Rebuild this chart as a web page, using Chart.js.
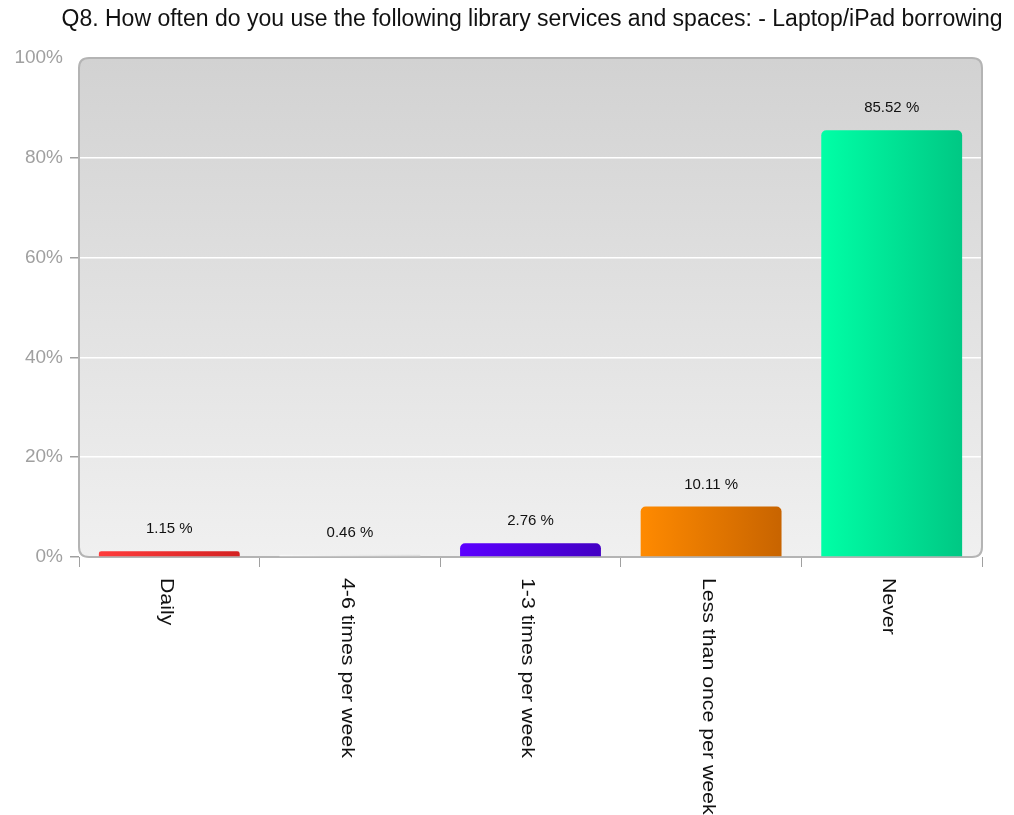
<!DOCTYPE html>
<html>
<head>
<meta charset="utf-8">
<script src="https://cdn.jsdelivr.net/npm/chart.js@4/dist/chart.umd.min.js"></script>
<style>
  body { margin: 0; background: #fff; }
  #chart { display: block; }
</style>
</head>
<body>
<canvas id="chart" width="1014" height="815"></canvas>
<script>
// ===== Q8 LAPTOP/IPAD BORROWING =====

const chartTitle = 'Q8. How often do you use the following library services and spaces: - Laptop/iPad borrowing';
const categories = ['Daily', '4-6 times per week', '1-3 times per week', 'Less than once per week', 'Never'];
const percentages = [1.15, 0.46, 2.76, 10.11, 85.52];
const yTicks = [0, 20, 40, 60, 80, 100];
const barLight = ['#ff3b3b', '#f8f8f8', '#5c00ff', '#ff8a00', '#00ffa6'];
const barDark = ['#d42222', '#dedede', '#4300c4', '#c86400', '#00c884'];

const FONT = '"Liberation Sans", Arial, sans-serif';

// horizontal gradient across each bar, worked out from the x scale
function barGradient(ctx) {
  const chart = ctx.chart;
  const i = ctx.dataIndex;
  const xs = chart.scales.x;
  if (!xs || !chart.chartArea || i === undefined) return barLight[i || 0];
  const w = xs.width / categories.length * 0.78;
  const cx = xs.getPixelForValue(i);
  const g = chart.ctx.createLinearGradient(cx - w / 2, 0, cx + w / 2, 0);
  g.addColorStop(0, barLight[i]);
  g.addColorStop(1, barDark[i]);
  return g;
}

function roundRect(c, x, y, w, h, r) {
  c.beginPath();
  c.moveTo(x + r, y);
  c.lineTo(x + w - r, y);
  c.quadraticCurveTo(x + w, y, x + w, y + r);
  c.lineTo(x + w, y + h - r);
  c.quadraticCurveTo(x + w, y + h, x + w - r, y + h);
  c.lineTo(x + r, y + h);
  c.quadraticCurveTo(x, y + h, x, y + h - r);
  c.lineTo(x, y + r);
  c.quadraticCurveTo(x, y, x + r, y);
  c.closePath();
}

const panelPlugin = {
  id: 'panel',
  beforeDraw(chart) {
    const { ctx, chartArea: a } = chart;
    ctx.save();
    const g = ctx.createLinearGradient(0, a.top, 0, a.bottom);
    g.addColorStop(0, '#d2d2d2');
    g.addColorStop(1, '#f0f0f0');
    roundRect(ctx, a.left, a.top, a.right - a.left, a.bottom - a.top, 10);
    ctx.fillStyle = g;
    ctx.fill();
    ctx.restore();
  },
  beforeDatasetsDraw(chart) {
    const { ctx, chartArea: a } = chart;
    ctx.save();
    roundRect(ctx, a.left, a.top, a.right - a.left, a.bottom - a.top, 10);
    ctx.strokeStyle = '#b4b4b4';
    ctx.lineWidth = 2;
    ctx.stroke();
    ctx.restore();
  },
  afterDatasetsDraw(chart) {
    const { ctx } = chart;
    const meta = chart.getDatasetMeta(0);
    ctx.save();
    ctx.fillStyle = '#111';
    ctx.font = '15px ' + FONT;
    ctx.textAlign = 'center';
    ctx.textBaseline = 'middle';
    meta.data.forEach((bar, i) => {
      ctx.fillText(percentages[i].toFixed(2) + ' %', bar.x, bar.y - 22);
    });
    ctx.restore();
  },
  afterDraw(chart) {
    const { ctx } = chart;
    const xs = chart.scales.x;
    ctx.save();
    ctx.fillStyle = '#111';
    ctx.font = '19px ' + FONT;
    ctx.textBaseline = 'middle';
    categories.forEach((c, i) => {
      ctx.save();
      ctx.translate(xs.getPixelForTick(i) - 3, chart.chartArea.bottom + 21);
      ctx.rotate(Math.PI / 2);
      ctx.scale(1.12, 1);
      ctx.textAlign = 'left';
      ctx.fillText(c, 0, 0);
      ctx.restore();
    });
    ctx.font = '23px ' + FONT;
    ctx.textAlign = 'center';
    ctx.fillText(chartTitle, 532, 20);
    ctx.restore();
  }
};

new Chart(document.getElementById('chart'), {
  type: 'bar',
  data: {
    labels: categories,
    datasets: [{
      data: percentages,
      backgroundColor: barGradient,
      borderWidth: 0,
      borderRadius: 5,
      borderSkipped: 'bottom',
      categoryPercentage: 1,
      barPercentage: 0.78
    }]
  },
  options: {
    responsive: false,
    animation: false,
    layout: { padding: { top: 58, right: 32, left: 0, bottom: 0 } },
    plugins: {
      legend: { display: false },
      title: { display: false },
      tooltip: { enabled: false }
    },
    scales: {
      x: {
        afterFit(scale) { scale.height = 258; },
        border: { display: false },
        grid: { drawOnChartArea: false, tickLength: 10, color: '#a0a0a0', lineWidth: 1 },
        ticks: { display: false }
      },
      y: {
        min: 0, max: 100,
        afterFit(scale) { scale.width = 79; },
        afterBuildTicks(scale) { scale.ticks = yTicks.map(v => ({ value: v })); },
        border: { display: false },
        grid: {
          color: ctx => (ctx.tick && (ctx.tick.value === 0 || ctx.tick.value === 100)) ? 'rgba(0,0,0,0)' : '#ffffff',
          tickColor: ctx => (ctx.tick && ctx.tick.value === 100) ? 'rgba(0,0,0,0)' : '#a0a0a0',
          tickLength: 9,
          lineWidth: 1.5
        },
        ticks: {
          padding: 7,
          color: '#a0a0a0',
          font: { family: FONT, size: 19 },
          callback: v => v + '%'
        }
      }
    }
  },
  plugins: [panelPlugin]
});
</script>
</body>
</html>
